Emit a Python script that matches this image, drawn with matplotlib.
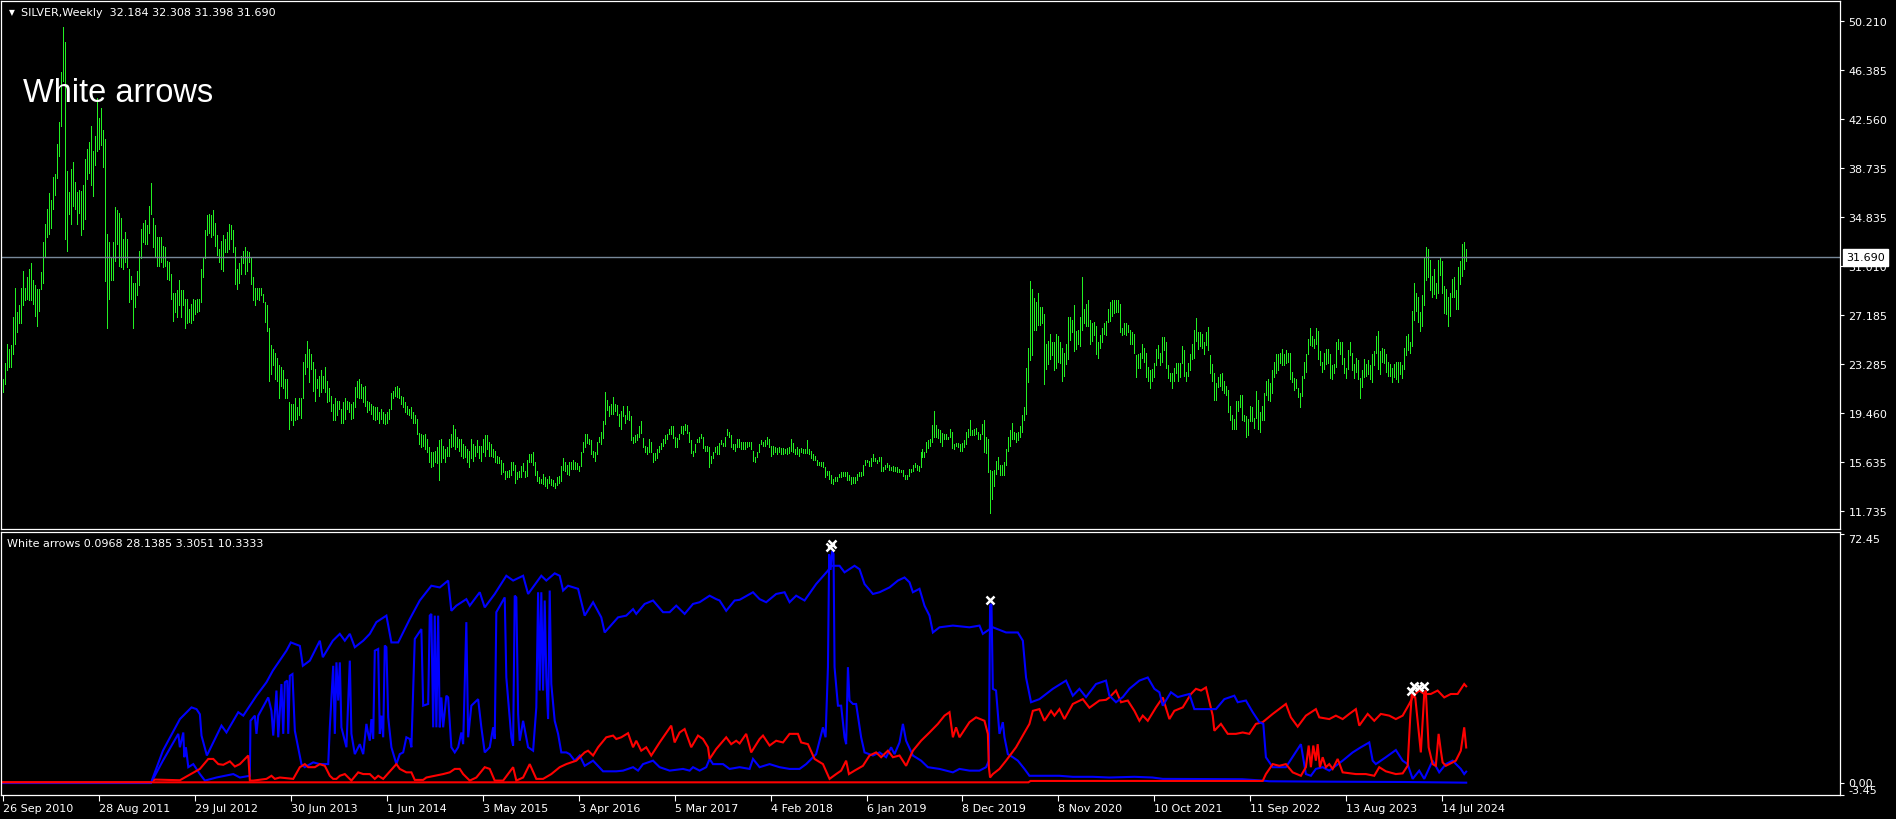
import matplotlib
matplotlib.use("Agg")
import matplotlib.pyplot as plt
import numpy as np
import pandas as pd

# ---------------- data ----------------
symbol = "SILVER,Weekly"
first_week = "2010-09-26"
last_bar = [32.184, 32.308, 31.398, 31.690]   # open, high, low, close

high = [
    22.1, 23.4, 24.9, 24.5, 24.8, 27.0, 29.3, 27.4, 27.9, 29.3,
    30.6, 29.3, 30.1, 30.8, 31.2, 29.9, 29.5, 29.2, 29.2, 30.5,
    32.9, 34.3, 35.5, 36.7, 36.2, 38.0, 38.2, 40.6, 42.3, 46.2,
    49.8, 48.6, 38.5, 36.8, 38.6, 39.2, 37.6, 36.8, 37.0, 36.9,
    37.4, 39.4, 40.2, 40.7, 42.0, 40.0, 41.2, 44.2, 42.6, 43.4,
    41.7, 41.0, 33.5, 32.9, 31.6, 32.9, 35.6, 35.4, 35.2, 34.8,
    33.1, 33.7, 33.1, 30.8, 30.2, 29.7, 29.7, 30.6, 32.2, 33.9,
    34.4, 34.6, 34.2, 35.7, 37.5, 34.8, 34.2, 33.3, 33.3, 33.3,
    32.6, 32.5, 31.4, 31.3, 30.4, 28.9, 28.9, 29.1, 29.9, 29.1,
    29.1, 28.4, 28.4, 27.6, 28.0, 28.4, 28.3, 28.4, 28.4, 30.8,
    31.7, 33.8, 35.0, 35.1, 35.0, 35.4, 34.4, 33.4, 32.3, 33.0,
    33.4, 33.1, 33.7, 34.3, 34.2, 33.8, 32.5, 30.8, 31.2, 31.8,
    32.2, 32.5, 32.2, 32.1, 31.6, 30.1, 29.3, 29.3, 29.3, 29.3,
    28.8, 28.2, 27.9, 26.1, 24.8, 24.5, 24.2, 23.8, 23.2, 23.1,
    22.8, 22.1, 22.1, 20.3, 20.2, 20.2, 20.6, 19.9, 20.6, 20.6,
    23.5, 24.1, 25.1, 24.5, 24.1, 23.5, 22.9, 22.1, 22.4, 22.8,
    22.4, 23.1, 22.0, 21.4, 20.8, 20.2, 20.6, 20.4, 20.4, 19.8,
    20.3, 20.6, 20.4, 20.3, 20.2, 20.3, 21.5, 22.0, 22.1, 21.7,
    21.5, 21.6, 20.4, 20.3, 20.2, 20.0, 19.9, 19.9, 19.5, 19.8,
    19.5, 19.4, 19.5, 19.8, 21.0, 21.2, 21.5, 21.6, 21.4, 20.8,
    20.7, 20.3, 20.0, 19.8, 19.9, 19.5, 19.3, 19.0, 17.9, 17.8,
    17.7, 17.8, 17.4, 16.8, 16.4, 16.4, 16.5, 16.8, 17.3, 17.4,
    16.9, 16.6, 16.8, 17.4, 17.8, 18.5, 18.2, 17.6, 17.4, 17.4,
    17.0, 16.9, 16.6, 16.5, 17.4, 17.0, 16.9, 17.3, 16.9, 16.9,
    17.4, 17.7, 17.7, 17.2, 17.0, 16.6, 16.5, 16.1, 16.0,
    # Jul 2015 ->
    15.8, 15.5, 14.9, 14.9, 15.0, 15.6, 15.6, 15.4, 14.8, 14.9,
    15.3, 15.5, 14.9, 15.8, 16.2, 16.2, 16.4, 15.6, 14.9, 14.4,
    14.3, 14.7, 14.4, 14.3, 14.5, 14.3,
    # 2016
    14.2, 14.0, 14.4, 14.5, 15.3, 15.9, 15.6, 15.4, 15.6, 15.6,
    15.8, 15.6, 15.5, 15.3, 16.4, 17.2, 17.8, 17.8, 17.4, 17.3,
    16.5, 16.4, 17.2, 17.6, 18.0, 18.8, 21.1, 20.5, 20.0, 20.2,
    20.7, 20.2, 20.1, 19.4, 19.6, 20.0, 19.3, 20.0, 19.6, 19.2,
    17.6, 17.7, 17.8, 18.4, 18.8, 17.5, 16.9, 16.8, 17.4, 17.2,
    16.3, 16.3,
    # 2017
    16.6, 16.9, 17.1, 17.4, 17.7, 17.8, 18.2, 18.4, 18.4, 17.6,
    17.5, 17.8, 18.4, 18.4, 18.6, 18.5, 18.0, 17.3, 16.5, 17.0,
    17.4, 17.6, 17.8, 17.6, 16.9, 16.9, 16.8, 16.1, 16.4, 16.8,
    16.9, 17.1, 17.3, 17.1, 17.6, 18.2, 18.0, 17.7, 17.0, 17.0,
    17.4, 17.4, 17.2, 17.2, 17.2, 17.2, 17.2, 17.2, 16.5, 16.0,
    16.4, 17.0,
    # 2018
    17.3, 17.2, 17.3, 17.6, 17.4, 16.9, 16.9, 16.8, 16.7, 16.8,
    16.7, 16.7, 16.6, 16.7, 16.8, 17.4, 17.1, 16.6, 16.8, 16.6,
    16.7, 16.6, 16.6, 17.3, 16.6, 16.5, 16.2, 16.1, 15.8, 15.6,
    15.6, 15.6, 15.2, 14.9, 14.9, 14.6, 14.3, 14.4, 14.4, 14.7,
    14.8, 14.8, 14.8, 14.8, 14.6, 14.4, 14.4, 14.4, 14.7, 14.8,
    14.8, 15.4,
    # 2019
    15.8, 15.8, 15.7, 15.9, 16.2, 15.9, 15.8, 16.0, 16.0, 15.2,
    15.4, 15.5, 15.4, 15.2, 15.3, 15.2, 15.2, 15.1, 15.0, 15.0,
    14.6, 14.6, 15.1, 15.1, 15.4, 15.5, 15.4, 15.3, 16.4, 16.6,
    16.4, 17.2, 17.3, 17.4, 18.5, 19.6, 18.5, 18.2, 18.1, 17.9,
    17.8, 17.8, 17.6, 18.2, 18.0, 17.0, 17.1, 17.1, 17.0, 17.1,
    17.3, 18.0,
    # 2020
    18.2, 18.9, 18.1, 18.2, 18.3, 18.0, 17.8, 18.6, 18.9, 17.6,
    17.4, 15.0, 14.9, 15.0, 15.7, 16.0, 15.4, 15.4, 15.6, 16.6,
    17.6, 18.1, 18.7, 18.0, 17.9, 18.0, 18.4, 19.3, 19.9, 23.0,
    24.6, 29.8, 29.2, 28.5, 28.2, 28.9, 27.8, 27.8, 27.2, 24.9,
    25.1, 25.7, 25.0, 25.0, 25.7, 25.5, 25.0, 24.6, 24.2, 24.9,
    27.0, 27.0,
    # 2021
    26.8, 27.9, 25.9, 26.0, 27.0, 30.1, 27.6, 28.0, 28.3, 26.8,
    26.5, 26.6, 26.3, 25.0, 25.6, 26.1, 26.5, 26.7, 27.6, 28.2,
    28.3, 28.3, 28.3, 28.3, 28.0, 26.1, 26.5, 26.5, 26.4, 26.0,
    25.8, 25.7, 24.0, 24.1, 24.2, 24.9, 24.6, 24.2, 23.1, 22.8,
    22.9, 23.4, 24.5, 24.8, 24.2, 25.4, 25.4, 25.0, 23.2, 22.6,
    22.6, 23.0,
    # 2022
    23.4, 23.4, 23.4, 24.7, 24.4, 22.7, 23.4, 24.1, 24.9, 26.0,
    26.9, 25.8, 25.8, 25.7, 25.0, 25.8, 26.2, 24.0, 23.3, 22.6,
    21.8, 22.3, 22.5, 22.6, 22.0, 21.6, 21.3, 20.0, 19.3, 19.0,
    20.4, 20.4, 20.9, 20.9, 19.3, 19.2, 19.0, 20.0, 19.9, 19.1,
    21.2, 20.5, 19.5, 20.0, 21.0, 22.0, 22.1, 21.8, 22.8, 23.5,
    24.1, 24.1,
    # 2023
    24.2, 24.5, 24.1, 24.4, 24.2, 24.2, 22.7, 22.2, 22.1, 21.4,
    21.0, 22.4, 23.5, 24.1, 25.3, 26.1, 25.5, 25.3, 26.1, 25.9,
    24.3, 23.5, 24.2, 24.5, 24.5, 24.1, 23.2, 23.3, 25.0, 25.3,
    25.0, 25.0, 23.8, 23.0, 24.4,
    25.0, 24.2, 23.3, 23.8, 23.6, 22.2, 22.8, 23.7, 23.3, 23.6,
    23.2, 24.1, 24.3, 25.5, 25.9, 24.3, 24.6,
    # 2024
    24.5, 24.1, 23.5, 23.3, 23.0, 23.3, 23.5, 23.5, 23.5, 23.2,
    24.6, 25.5, 25.7, 25.0, 27.5, 29.7, 28.9, 28.6, 27.4, 28.7,
    31.6, 32.5, 32.3, 31.5, 30.2, 30.8, 29.7, 31.5, 31.6, 31.4,
    29.4, 29.2, 28.6, 28.9, 30.0, 30.1, 29.1, 30.9, 31.4, 32.7,
    32.9, 32.308,
]

low = [
    21.1, 21.7, 22.8, 23.1, 23.1, 24.1, 24.9, 25.8, 26.5, 26.5,
    27.9, 28.3, 28.4, 28.3, 28.3, 28.0, 27.1, 26.3, 27.5, 29.2,
    29.7, 31.7, 33.3, 33.5, 34.0, 35.5, 36.6, 37.9, 39.6, 42.0,
    45.5, 33.1, 32.2, 35.1, 34.3, 35.7, 35.5, 34.3, 35.2, 33.4,
    33.9, 34.7, 37.8, 38.3, 37.4, 36.5, 38.9, 40.0, 40.2, 40.5,
    38.8, 29.8, 26.1, 28.4, 29.9, 29.9, 31.4, 32.7, 31.0, 30.9,
    30.8, 31.3, 30.9, 28.2, 28.4, 26.1, 27.8, 28.7, 29.5, 31.6,
    32.9, 32.7, 32.7, 33.6, 35.1, 32.5, 31.7, 31.0, 31.0, 31.3,
    30.9, 31.0, 30.0, 29.9, 28.4, 26.7, 27.4, 27.0, 27.9, 27.0,
    27.9, 26.1, 26.5, 26.6, 26.5, 26.8, 27.2, 27.4, 27.5, 28.2,
    30.1, 31.6, 33.4, 33.6, 33.3, 33.4, 32.6, 31.9, 31.3, 30.8,
    30.6, 32.1, 32.1, 32.3, 33.1, 32.1, 29.6, 29.2, 29.7, 30.4,
    31.2, 30.4, 30.6, 31.3, 29.6, 28.3, 27.9, 28.4, 28.3, 28.7,
    28.2, 26.6, 25.9, 22.0, 22.5, 23.2, 22.1, 22.0, 20.6, 21.6,
    21.4, 20.6, 20.6, 18.2, 18.9, 18.5, 18.9, 19.0, 19.3, 19.1,
    20.6, 22.5, 23.1, 21.9, 22.9, 21.2, 20.4, 21.4, 20.8, 21.1,
    21.4, 21.1, 20.3, 20.4, 19.6, 18.9, 18.9, 19.3, 19.8, 18.7,
    18.7, 19.0, 19.8, 19.5, 19.0, 19.1, 19.9, 20.7, 20.6, 20.6,
    20.3, 20.0, 19.5, 19.7, 19.4, 19.0, 18.9, 19.0, 18.7, 19.0,
    18.7, 18.6, 18.7, 19.0, 19.8, 20.6, 20.8, 20.7, 20.6, 20.2,
    19.9, 19.5, 19.4, 19.3, 19.1, 18.7, 18.7, 17.8, 17.0, 16.8,
    16.9, 16.6, 16.4, 15.6, 15.2, 15.3, 15.6, 15.5, 14.2, 15.6,
    15.9, 15.6, 16.1, 16.1, 16.8, 16.9, 16.6, 16.8, 16.5, 16.1,
    15.9, 16.0, 15.6, 15.2, 15.9, 15.7, 16.1, 16.4, 15.9, 15.7,
    16.4, 16.1, 16.6, 16.1, 16.1, 16.0, 15.6, 15.5, 15.5,
    # Jul 2015 ->
    14.7, 14.8, 14.3, 14.4, 14.4, 14.6, 15.0, 14.0, 14.3, 14.4,
    14.4, 14.9, 14.4, 14.5, 15.6, 15.6, 15.4, 14.6, 14.1, 14.0,
    14.0, 13.9, 13.7, 13.6, 14.0, 13.8,
    # 2016
    13.7, 13.6, 13.8, 14.0, 14.1, 15.0, 14.9, 14.7, 14.6, 15.1,
    15.1, 15.1, 15.1, 14.9, 15.3, 16.4, 16.8, 17.1, 17.0, 16.2,
    16.0, 15.7, 16.2, 17.2, 17.0, 17.5, 18.6, 19.7, 19.2, 19.4,
    19.4, 19.6, 19.3, 18.4, 18.2, 19.2, 18.7, 19.0, 18.9, 17.3,
    17.1, 17.2, 17.3, 17.6, 17.9, 16.8, 16.4, 16.2, 16.4, 16.4,
    15.6, 15.8,
    # 2017
    15.9, 16.4, 16.6, 16.9, 17.1, 17.4, 17.8, 17.8, 17.5, 16.8,
    16.8, 17.4, 17.9, 17.8, 18.1, 17.9, 17.2, 16.3, 16.1, 16.4,
    17.2, 17.2, 17.5, 16.7, 16.5, 16.5, 15.2, 15.5, 15.9, 16.4,
    16.2, 16.2, 17.0, 16.9, 16.9, 17.7, 17.6, 16.8, 16.6, 16.5,
    16.8, 16.8, 16.6, 16.6, 16.6, 16.8, 16.9, 16.6, 15.7, 15.6,
    16.0, 16.4,
    # 2018
    17.0, 16.9, 16.9, 17.0, 16.8, 16.1, 16.2, 16.4, 16.2, 16.4,
    16.2, 16.2, 16.3, 16.2, 16.3, 16.5, 16.4, 16.2, 16.2, 16.1,
    16.4, 16.3, 16.3, 16.3, 16.2, 15.9, 15.8, 15.8, 15.4, 15.4,
    15.3, 15.2, 14.4, 14.6, 14.3, 14.0, 13.9, 14.1, 14.1, 14.4,
    14.4, 14.5, 14.5, 14.2, 14.2, 13.9, 14.0, 14.0, 14.2, 14.5,
    14.5, 14.6,
    # 2019
    15.4, 15.6, 15.3, 15.3, 15.7, 15.7, 15.5, 15.7, 14.9, 14.9,
    15.1, 15.2, 15.0, 15.0, 14.9, 14.9, 14.8, 14.8, 14.8, 14.5,
    14.3, 14.3, 14.5, 14.8, 14.9, 15.2, 15.0, 14.9, 15.2, 16.0,
    16.0, 16.4, 16.7, 16.9, 17.2, 17.6, 17.6, 17.5, 17.2, 16.9,
    17.4, 17.4, 17.4, 17.6, 16.7, 16.6, 16.9, 16.8, 16.5, 16.5,
    16.8, 17.0,
    # 2020
    17.6, 17.7, 17.7, 17.7, 17.8, 17.4, 17.4, 17.8, 16.4, 16.3,
    14.8, 11.6, 12.7, 13.7, 14.7, 15.1, 14.6, 14.6, 14.6, 15.4,
    16.5, 16.9, 17.4, 17.4, 17.2, 17.3, 17.6, 18.0, 18.9, 19.4,
    21.9, 23.6, 24.0, 26.0, 26.0, 26.4, 26.4, 26.5, 21.7, 22.9,
    23.3, 23.7, 24.0, 22.8, 23.0, 23.5, 23.4, 22.0, 22.4, 23.3,
    23.7, 25.2,
    # 2021
    25.8, 24.3, 24.5, 24.9, 24.7, 26.0, 26.5, 26.3, 26.3, 24.9,
    25.1, 25.6, 24.1, 23.8, 24.6, 25.0, 25.7, 25.6, 26.6, 26.7,
    27.1, 27.3, 27.4, 27.4, 25.8, 25.6, 25.7, 25.6, 25.8, 24.9,
    24.9, 24.2, 22.3, 23.0, 23.0, 23.8, 23.5, 22.3, 22.0, 21.4,
    22.0, 22.3, 23.2, 23.8, 23.2, 23.5, 24.4, 23.0, 22.2, 22.0,
    21.4, 22.0,
    # 2022
    22.6, 22.0, 22.3, 23.4, 22.4, 22.0, 22.4, 22.8, 23.7, 23.8,
    25.1, 24.5, 24.7, 24.6, 24.1, 24.8, 24.4, 22.6, 22.0, 20.5,
    20.5, 21.5, 21.6, 21.3, 21.0, 20.9, 19.5, 18.9, 18.2, 18.2,
    18.2, 19.6, 19.9, 18.9, 18.8, 17.6, 17.7, 18.8, 18.8, 18.3,
    19.1, 18.2, 18.0, 18.9, 18.9, 20.9, 20.5, 20.4, 21.0, 22.3,
    22.6, 22.8,
    # 2023
    23.4, 23.2, 23.2, 23.4, 23.5, 22.1, 21.9, 21.3, 21.4, 20.7,
    19.9, 20.8, 22.2, 22.7, 24.1, 24.8, 24.7, 24.6, 24.9, 23.7,
    23.2, 22.7, 22.9, 23.3, 23.4, 22.2, 22.1, 22.6, 23.1, 24.5,
    24.1, 23.3, 22.6, 22.2, 22.9,
    24.0, 22.8, 22.2, 22.7, 22.1, 20.6, 21.5, 22.3, 22.4, 22.5,
    22.1, 21.9, 23.2, 24.2, 22.9, 22.5, 23.5,
    # 2024
    23.4, 22.7, 22.4, 22.4, 21.9, 22.3, 22.1, 21.9, 22.5, 22.2,
    22.9, 24.0, 24.4, 24.2, 24.7, 26.8, 27.5, 26.6, 25.9, 26.3,
    27.9, 29.9, 30.1, 29.1, 28.6, 28.8, 28.5, 28.9, 30.3, 28.9,
    27.3, 27.2, 26.3, 27.1, 28.6, 28.6, 27.6, 27.6, 29.6, 30.2,
    30.8, 31.398,
]

price_ticks = [50.210, 46.385, 42.560, 38.735, 34.835, 31.010,
               27.185, 23.285, 19.460, 15.635, 11.735]

date_labels = ["26 Sep 2010", "28 Aug 2011", "29 Jul 2012", "30 Jun 2013",
               "1 Jun 2014", "3 May 2015", "3 Apr 2016", "5 Mar 2017",
               "4 Feb 2018", "6 Jan 2019", "8 Dec 2019", "8 Nov 2020",
               "10 Oct 2021", "11 Sep 2022", "13 Aug 2023", "14 Jul 2024"]

indicator_name = "White arrows"
indicator_last = [0.0968, 28.1385, 3.3051, 10.3333]
indicator_ticks = [72.45, 0.0, -3.45]

# indicator buffers as (week index, value) vertices
blue_spiky = [
    (0, 0), (74, 0), (80, 6.5), (87.7, 14.3), (88.5, 10.4), (90.2, 14.7), (90.7, 7.5),
    (91.5, 10.4), (92.7, 4.6), (95.2, 5.5), (98.5, 2.6), (101, 0.7), (106.8, 1.6),
    (115.2, 2.6), (118.5, 1.6), (123.5, 2.1), (123.8, 18.1), (126, 19.6), (126.8, 14.3),
    (127.7, 19.6), (132.7, 24.9), (134.3, 21), (135.2, 13.8), (136.8, 26.9), (137.7, 13.3),
    (139.3, 28.8), (140.2, 14.3), (141, 29.3), (142.2, 29.8), (142.7, 14.3), (143.5, 31.2),
    (144.8, 31.7), (146, 15.2), (149.3, 5.5), (151, 4.6), (155.2, 6), (158.5, 5.5),
    (162.7, 5.5), (163.5, 16.2), (165.2, 34.1), (166, 14.3), (166.8, 35.1), (167.7, 24),
    (168.5, 35.1), (169.3, 16.2), (171.8, 10.4), (173.5, 35.6), (174.3, 14.3), (176, 8.4),
    (178.5, 11.3), (180.2, 8.4), (181.8, 17.2), (182.7, 14.3), (183.5, 12.3),
    (184.3, 18.6), (185.2, 12.8), (186, 38.5), (187.7, 39), (188.5, 14.3), (189.3, 19.6),
    (190.2, 13.3), (191, 40), (191.8, 39.5), (192.7, 19.1), (194.3, 10.4), (196.8, 5.5),
    (198.5, 8.4), (200.2, 8.9), (201.8, 13.3), (203.5, 12.8), (204.3, 10.4), (206, 41.9),
    (209.3, 44.8), (210.2, 22.5), (212.7, 23), (213.5, 48.7), (214.3, 49.2), (215.2, 16.2),
    (216, 48.7), (216.8, 16.2), (217.7, 48.7), (218.5, 16.2), (219.3, 24.9), (220.2, 16.2),
    (221.8, 25.4), (222.7, 24.9), (224.3, 10.4), (226, 8.9), (227.7, 10.4), (229.3, 14.7),
    (230.2, 11.3), (231.8, 46.8), (232.7, 13.3), (234.3, 22.5), (237.7, 24.4), (239.3, 16.2),
    (241, 8.9), (243.5, 10.4), (245.2, 16.2), (246, 12.8), (246.8, 49.7), (251, 54),
    (251.8, 30.7), (254.3, 13.3), (255.2, 10.9), (256, 54.5), (256.8, 54), (257.7, 20.1),
    (258.5, 12.3), (260.2, 18.1), (262.7, 10.4), (265.2, 9.4), (266.8, 22), (267.7, 55.5),
    (268.5, 26.9), (269.3, 55.5), (270.2, 26.9), (271, 53.1), (271.8, 30.7), (272.7, 18.6),
    (273.5, 56), (274.3, 28.8), (276, 18.1), (277.7, 14.3), (279.3, 8.9), (281.8, 8.9),
    (283.5, 8.4), (286, 6.5), (288.5, 8), (291, 5), (295.2, 6.5), (300.2, 3.4),
    (306.8, 3.4), (310.2, 3.6), (315.2, 4.6), (317.7, 3.6), (320.2, 5.5), (325.2, 6.5),
    (328.5, 4.6), (333.5, 3.6), (340.2, 4.1), (343.5, 3.6), (345.2, 4.6), (348.5, 3.6),
    (351.8, 4.6), (353.5, 7), (355.2, 5.5), (360.2, 5.5), (363.5, 4.1), (368.5, 4.6),
    (373.5, 4.1), (375.2, 7), (378.5, 4.6), (383.5, 5.5), (388.5, 4.6), (393.5, 4.1),
    (398.5, 4.1), (401.8, 5.5), (406.8, 8.4), (410.2, 16.2), (411.5, 13.3), (412.7, 33.7),
    (413.3, 66.5), (414, 62), (414.8, 67.5), (415.5, 66.6), (416, 33.7), (417.7, 22.5),
    (419.3, 22.5), (421, 13.3), (421.8, 11.3), (422.7, 33.7), (423.5, 24), (425.2, 23),
    (426.8, 23), (429.3, 13.3), (431, 8.9), (435.2, 8), (438.5, 8.9), (441.8, 7.5),
    (444.3, 10.4), (446, 8.4), (448.5, 11.8), (450.2, 17.2), (451.8, 12.3), (455.2, 8),
    (459.3, 6.5), (462.7, 4.6), (468.5, 4.1), (475.2, 3.1), (478.5, 4.1), (483.5, 3.6),
    (488.5, 3.6), (491.8, 4.6), (493.2, 6.5), (493.8, 51.6), (494.5, 52.1), (495.2, 27.4),
    (496.8, 26.9), (498.5, 14.3), (500.2, 17.7), (501, 13.3), (502.7, 8.4), (505.2, 7.5),
    (507.7, 6.5), (511, 4.1), (513.5, 2.1), (528.5, 2.1), (535.2, 1.8), (545.2, 1.8),
    (553.5, 1.6), (566, 1.8), (575, 1.6), (580.2, 1.2), (620, 1.1), (630.2, 0.7),
    (633.5, 0.5), (660, 0.4), (700, 0.3), (732, 0.0968),
]

red_upper = [
    (0, 0.2), (74, 0.2), (76, 1.0), (88.5, 0.8), (98.5, 4.1), (102.7, 7), (105.2, 7),
    (107.7, 5.5), (110.2, 5.3), (113.5, 6.3), (116, 4.8), (118.5, 5.5), (122.7, 8),
    (123.5, 0.7), (125.2, 0.7), (131.8, 1.2), (134.3, 2.1), (136, 1.2), (138.5, 1.6),
    (141.8, 1.4), (145.2, 1.2), (148.5, 4.6), (151, 5.5), (152.7, 4.6), (156, 4.6),
    (158.5, 5.5), (161, 5), (163.5, 2.1), (165.2, 1.2), (166.8, 1.2), (168.5, 2.1),
    (171, 2.6), (172.7, 1.6), (174.3, 0.7), (177.7, 3.1), (180.2, 2.6), (183.5, 2.6),
    (186, 1.2), (187.7, 2.1), (190.2, 1.2), (196.8, 5.5), (198.5, 4.1), (201.8, 3.1),
    (204.3, 3.1), (206, 0.9), (210.2, 0.9), (211.8, 1.6), (216, 2.1), (220.2, 2.6),
    (223.5, 3.1), (226, 4.1), (228.5, 4.1), (230.2, 2.6), (233.5, 0.7), (236.8, 1.6),
    (241, 4.6), (243.5, 4.1), (246, 0.7), (250.2, 0.7), (255.2, 4.6), (256.8, 0.7),
    (260.2, 1.6), (263.5, 5.5), (266.8, 1.2), (270.2, 1.2), (274.3, 2.6), (278.5, 4.6),
    (281.8, 5.5), (286.8, 6.5), (291, 8.9), (292.7, 9.4), (295.2, 8), (297.7, 10.4),
    (301.8, 13.3), (305.2, 13.8), (306.8, 12.8), (309.3, 13.3), (312.7, 14.5), (315.2, 10.4),
    (316.8, 12.3), (319.3, 9.4), (321.8, 10.4), (324.3, 8), (328.5, 11.8), (334.3, 16.7),
    (336, 11.8), (338.5, 14.7), (341, 15.7), (344.3, 10.4), (347.7, 13.8), (350.2, 12.8),
    (352.7, 10.4), (353.5, 7), (356.8, 9.9), (361.8, 13.3), (364.3, 11.3), (366.8, 12.3),
    (368.5, 11.5), (371.8, 14.3), (374.3, 8.9), (378.5, 12.8), (380.2, 13.8), (383.5, 10.9),
    (386.8, 12.3), (390.2, 11.8), (393.5, 14.3), (397.7, 14.3), (399.3, 11.8), (402.7, 11.3),
    (406, 7), (410.2, 5.5), (413.5, 1.2), (416.8, 2.6), (419.3, 3.6), (421.8, 6.5),
    (423.2, 2.6), (426, 3.6), (430.2, 5), (433.5, 8), (436.8, 8.9), (439.3, 7.5),
    (442.7, 9.4), (445.2, 7.5), (448.5, 8), (451.8, 5), (455.2, 9.4), (459.3, 12.3),
    (463.5, 14.7), (467.7, 17.2), (471, 19.6), (473.5, 20.6), (475.2, 13.3), (476.8, 16.2),
    (478.5, 13.3), (483.5, 17.7), (486.8, 19.1), (491, 18.1), (492.7, 14.3), (493.2, 4.6),
    (493.8, 1.6), (495.2, 2.6), (498.5, 4.1), (501.8, 6.5), (506.8, 10.4), (513.5, 17.2),
    (515.2, 21), (518.5, 21.5), (521, 18.1), (524.3, 21), (526, 19.6), (528.5, 21.5),
    (531, 18.6), (535.2, 23), (540.2, 24.4), (543.5, 21.9), (548.5, 24), (551.8, 24.2),
    (553.5, 24.9), (556.8, 26.9), (559.3, 23.5), (562.7, 24), (566, 21), (568.5, 18.1),
    (570.2, 19.6), (572.7, 18.1), (576.8, 22), (580.2, 24.9), (583.5, 18.6), (586, 21),
    (590.2, 22), (594.3, 25.9), (596.8, 27.4), (599.3, 26.9), (601.8, 27.8), (605.2, 19.6),
    (606, 15.2), (609.3, 17.2), (612.7, 14.3), (616.8, 14.3), (620.2, 14.7), (623.5, 14.3),
    (626.8, 17.2), (630.2, 17.7), (635.2, 20.1), (641.8, 23), (644.3, 19.1), (647.7, 16.4),
    (651.8, 19.6), (656.8, 21.5), (658.5, 19.1), (663.5, 18.6), (666.8, 19.6), (670.2, 18.6),
    (673.5, 20.1), (676.8, 21.5), (678.5, 16.7), (682.7, 20.1), (686, 18.1), (689.3, 20.1),
    (693.5, 19.6), (696.8, 18.6), (700.2, 19.6), (703.5, 23), (705.2, 24.9), (706.5, 25.9),
    (708.5, 26.9), (711, 25.9), (714.3, 25.9), (717.7, 26.9), (721, 24.9), (724.3, 25.9),
    (727.7, 25.9), (731, 28.8), (732, 28.1385),
]

blue_upper = [
    (0, 0), (74, 0), (80, 9.4), (88.5, 18.6), (94.3, 22), (96.8, 21.5), (98.5, 20),
    (99.3, 13.8), (102, 8), (109.3, 16.7), (111.8, 14.7), (117.7, 20.6), (120.2, 19.6),
    (126.8, 25.4), (131.8, 29.3), (135, 32.7), (141.8, 38.5), (144, 40.9), (148.5, 39.9),
    (150, 34.1), (153.5, 35.6), (158.5, 41.4), (160, 36.6), (165, 41.4), (168.5, 43.4),
    (171, 41.4), (173.5, 43.4), (176, 39.5), (180.2, 41.4), (183.5, 43.4), (186.8, 46.8),
    (191.8, 48.7), (194.3, 40.9), (197.7, 40.9), (203.5, 47.7), (208.5, 53.1), (214.3, 57.4),
    (218.5, 56.9), (222.7, 58.9), (224.3, 50.1), (226.8, 51.6), (231.8, 53.5), (233.5, 51.6),
    (238.5, 55.5), (241, 51.1), (246, 55), (251.8, 60.3), (255.2, 58.9), (260.2, 60.3),
    (262.7, 55), (269.3, 60.3), (271.8, 58.9), (276, 61), (278.5, 60.3), (280.2, 56),
    (282.7, 57.4), (287.7, 56.5), (291, 48.7), (295.2, 52.6), (299.3, 48.2), (301, 43.8),
    (307.7, 48.2), (311.8, 48.7), (315.2, 50.6), (316.8, 49.2), (321, 52.1), (325.2, 53.1),
    (330.2, 49.7), (333.5, 49.7), (336.8, 51.6), (341, 49.2), (345.2, 52.1), (348.5, 52.6),
    (353.5, 54.5), (356.8, 53.5), (358.5, 53.1), (361.8, 50.1), (366, 53.1), (368.5, 53.3),
    (375.2, 55.5), (378.5, 53.5), (381.8, 52.6), (386.8, 55), (391, 55.5), (393.5, 52.6),
    (396.8, 54.5), (401, 53.1), (406.8, 57.9), (412.7, 61.8), (414.3, 63.2), (418.5, 63.2),
    (421, 61.3), (426, 63.2), (428.5, 62.2), (431, 57.9), (435.2, 55), (438.5, 55.5),
    (443.5, 56.9), (447.7, 58.9), (451, 59.8), (453.5, 58.4), (455.2, 55.5), (458.5, 56.5),
    (461, 51.6), (463.5, 48.7), (465.2, 43.8), (468.5, 45.3), (475.2, 45.8), (483.5, 45.3),
    (488.5, 45.8), (490.2, 43.4), (492.7, 44.4), (495.2, 45.3), (501.8, 43.8), (507.7, 43.8),
    (510.2, 41.4), (511.8, 30.7), (514.3, 23.5), (518.5, 24.4), (525.2, 27.4), (531.8, 29.8),
    (535.2, 25.4), (538.5, 27.4), (541.8, 25), (546.8, 28.8), (551.8, 29.8), (553.5, 25.4),
    (556.8, 23.5), (560.2, 25), (563.5, 27.4), (568.5, 29.8), (572.7, 30.7), (576, 27.4),
    (578.5, 26.4), (580.2, 22.5), (584.3, 26.4), (587.7, 25), (593.5, 25.9), (596, 21.5),
    (601.8, 21.5), (606.8, 21.5), (611, 24.4), (616, 25.4), (617.7, 23.5), (621.8, 24),
    (625.2, 20.6), (628.5, 17.7), (630.5, 17.2), (631.8, 7.5), (635.2, 4.6), (641.8, 4.6),
    (649.3, 11.3), (651.8, 2.6), (654.3, 2.1), (656.8, 4.1), (660.2, 4.6), (663.5, 3.6),
    (670.2, 6.5), (675.2, 8.9), (679.3, 10.4), (683.5, 11.8), (685.2, 6.5), (686.8, 5.5),
    (691.8, 7.5), (696.8, 9.6), (700.2, 6.5), (702.7, 5.5), (705.2, 1.2), (708.5, 3.6),
    (711, 1.2), (715.2, 6.5), (718.5, 3.1), (721.8, 5.5), (725.2, 6.5), (729.3, 4.1),
    (731, 2.6), (732, 3.3051),
]

red_lower = [
    (0, 0.2), (513, 0.2), (514, 0.6), (630.2, 0.6), (631.8, 2.6), (635.2, 5.5), (638.5, 5),
    (641.8, 5.5), (645.2, 3.1), (649.3, 2.1), (651.8, 4.6), (653.2, 10.9), (654.3, 4.6),
    (655.5, 10.9), (656.8, 6.5), (657.7, 11.3), (658.8, 4.6), (660.2, 7.5), (661.8, 4.6),
    (663.5, 5.5), (665.2, 4.1), (667.7, 7), (670.2, 3.1), (676.8, 2.6), (681.8, 2.6),
    (686, 2.1), (688.5, 4.6), (691.8, 3.4), (696.8, 2.6), (700.2, 2.8), (702.7, 5),
    (704, 19.1), (704.8, 25.9), (706.5, 24.9), (707.7, 18.1), (709.3, 8.9), (711, 25.9),
    (711.8, 26.9), (713.2, 10.4), (715.2, 5.5), (716.8, 5), (718.2, 14.3), (719.3, 9.4),
    (720.2, 6), (721.8, 5), (723.5, 5.5), (726.8, 6.5), (729.3, 9.4), (731, 16.2),
    (732, 10.3333),
]

arrows = [(413.5, 68.6), (414.8, 69.5), (493.8, 53.2),
          (704.3, 26.9), (706.0, 28.3), (708.5, 27.8), (711.0, 28.3)]

# ---------------- layout ----------------
if len(high) != len(low):
    raise SystemExit("length mismatch %d %d" % (len(high), len(low)))

W, H = 1896, 820
BG = "black"
FG = "white"
GREEN = "#22f022"
BLUE = "#0000ff"
RED = "#ff0000"
FS = 8

plt.rcParams["font.family"] = ["DejaVu Sans"]

fig = plt.figure(figsize=(W / 100, H / 100), dpi=100, facecolor=BG)


def px_box(l, t, r, b):
    return [l / W, 1 - b / H, (r - l) / W, (b - t) / H]


ax1 = fig.add_axes(px_box(1, 2, 1840, 530))
ax2 = fig.add_axes(px_box(1, 533, 1840, 796), sharex=ax1)

for ax in (ax1, ax2):
    ax.set_facecolor(BG)
    for sp in ax.spines.values():
        sp.set_color(FG)
        sp.set_linewidth(0.9)

weeks = np.arange(len(high))
start = pd.Timestamp(first_week)

# price bars (1 px wide)
ax1.vlines(weeks, low, high, colors=GREEN, linewidth=0.72, antialiased=False)
ax1.axhline(last_bar[3], color="#778899", linewidth=1.0)
ax1.set_xlim(-1, 919)
ax1.set_ylim(10.35, 51.81)
ax1.yaxis.tick_right()
ax1.set_yticks(price_ticks)
ax1.set_yticklabels(["%.3f" % v for v in price_ticks])
ax1.tick_params(axis="y", direction="out", length=3, width=0.8, color=FG,
                labelcolor=FG, labelsize=FS, pad=3)
ax1.tick_params(axis="x", bottom=False, labelbottom=False)

ax1.annotate("%.3f" % last_bar[3], xy=(1.0, last_bar[3]),
             xycoords=("axes fraction", "data"), xytext=(4.5, 0),
             textcoords="offset points", ha="left", va="center",
             fontsize=FS, color="black", annotation_clip=False, zorder=20,
             bbox=dict(boxstyle="square,pad=0.3", facecolor="white",
                       edgecolor="white"))

# indicator
for series, col in ((blue_spiky, BLUE), (red_upper, RED),
                    (blue_upper, BLUE), (red_lower, RED)):
    xs, ys = zip(*series)
    ax2.plot(xs, ys, color=col, linewidth=1.5, solid_joinstyle="miter")

ax_w, ax_v = zip(*arrows)
ax2.plot(ax_w, ax_v, linestyle="none", marker="x", color=FG,
         markersize=6, markeredgewidth=1.8, clip_on=False, zorder=10)

ax2.set_ylim(-3.49, 73.03)
ax2.yaxis.tick_right()
ax2.set_yticks(indicator_ticks)
ax2.set_yticklabels(["%.2f" % v for v in indicator_ticks])
ax2.tick_params(axis="y", direction="out", length=3, width=0.8, color=FG,
                labelcolor=FG, labelsize=FS, pad=3)
ylab = ax2.get_yticklabels()
ylab[0].set_va("top")
ylab[1].set_va("center")
ylab[2].set_va("bottom")

tick_pos = [(pd.to_datetime(d, format="%d %b %Y") - start).days / 7.0
            for d in date_labels]
ax2.set_xticks(tick_pos)
ax2.set_xticklabels(date_labels, ha="left")
ax2.tick_params(axis="x", direction="out", length=4, width=0.8, color=FG,
                labelcolor=FG, labelsize=FS, pad=2)
ax2.set_xlim(-1, 919)

# header texts
fig.text(11.5 / W, 1 - 13 / H, "\u25BC", fontsize=5.5, color=FG,
         ha="center", va="center")
fig.text(21 / W, 1 - 12.5 / H,
         "%s  %s" % (symbol, " ".join("%.3f" % v for v in last_bar)),
         fontsize=FS, color=FG, ha="left", va="center")
fig.text(23 / W, 1 - 102 / H, indicator_name, fontsize=23.5,
         family=["Liberation Sans", "DejaVu Sans"], color=FG,
         ha="left", va="baseline")
fig.text(7 / W, 1 - 544 / H,
         "%s %s" % (indicator_name, " ".join("%.4f" % v for v in indicator_last)),
         fontsize=FS, color=FG, ha="left", va="center")

fig.savefig("out.png", dpi=100, facecolor=BG)
